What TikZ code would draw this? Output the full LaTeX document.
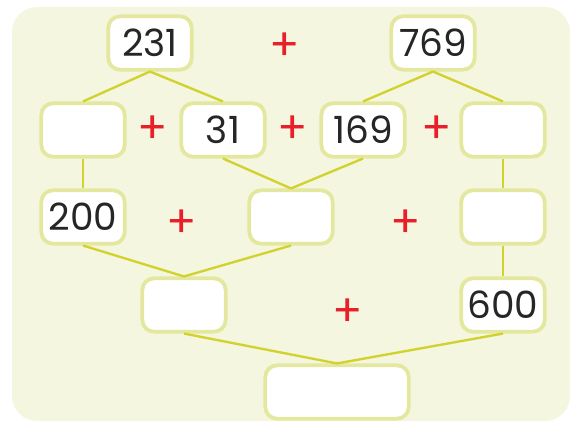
\documentclass[tikz,border=0pt]{standalone}
\usepackage{fontspec}
\setmainfont{Poppins}
\usetikzlibrary{positioning}
\definecolor{panel}{HTML}{F4F6E0}
\definecolor{rim}{HTML}{E4E89E}
\definecolor{link}{HTML}{D2D22E}
\definecolor{plusred}{HTML}{E8202A}

\begin{document}
\begin{tikzpicture}[x=0.03cm, y=-0.03cm, every node/.style={font=\fontsize{32}{32}\selectfont}, box/.style={draw=rim, line width=3.2pt, fill=white, rounded corners=0.35cm, minimum width=2.5cm, minimum height=1.6cm, inner sep=0pt, text=black!85}, wide/.style={box, minimum width=4.3cm}, link/.style={draw=link, line width=2pt}, plus/.style={text=plusred, font=\fontsize{38}{38}\selectfont}]
	\useasboundingbox (0,0) rectangle (572,423);
	\fill[panel, rounded corners=0.75cm] (12,7) rectangle (570,421);
	% boxes
	\node[box] (top1) at (150,43) {231};
	\node[box] (top2) at (433,43) {769};
	\node[box] (a1) at (83,130) {};
	\node[box] (a2) at (223,130) {31};
	\node[box] (a3) at (363,130) {169};
	\node[box] (a4) at (503,130) {};
	\node[box] (b1) at (83,217) {200};
	\node[box] (b2) at (291,217) {};
	\node[box] (b3) at (503,217) {};
	\node[box] (c1) at (184,305) {};
	\node[box] (c2) at (503,305) {600};
	\node[wide] (sum) at (337,392) {};
	% links
	\foreach \u/\v in {top1/a1, top1/a2, top2/a3, top2/a4, a1/b1, a2/b2, a3/b2, a4/b3, b1/c1, b2/c1, b3/c2, c1/sum, c2/sum}
		\draw[link] (\u.south) -- (\v.north);
	% plus signs
	\foreach \x/\y [count=\i] in {285/47, 153/130, 293/130, 437/130, 182/224, 406/224, 348/313}
		\node[plus] (p\i) at (\x,\y) {+};
\end{tikzpicture}
\end{document}
